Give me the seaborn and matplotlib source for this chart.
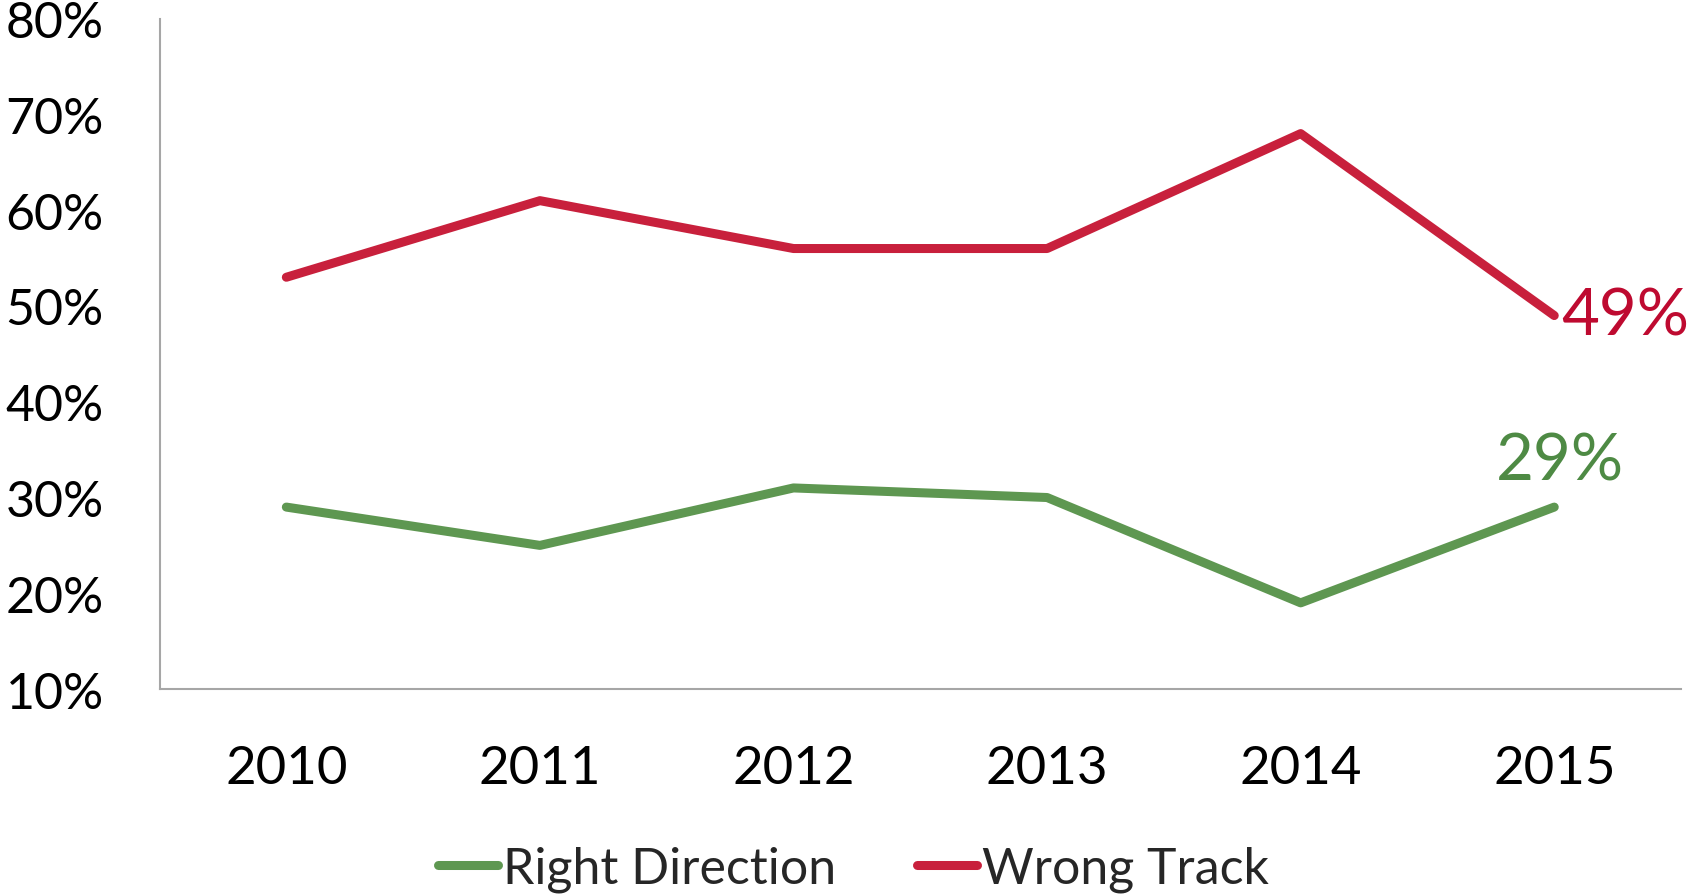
import matplotlib
matplotlib.use("Agg")
import matplotlib.pyplot as plt
import seaborn as sns
import pandas as pd
from matplotlib.ticker import PercentFormatter
from matplotlib.lines import Line2D

years = ["2010", "2011", "2012", "2013", "2014", "2015"]
right_direction = [0.29, 0.25, 0.31, 0.30, 0.19, 0.29]
wrong_track = [0.53, 0.61, 0.56, 0.56, 0.68, 0.49]
series_names = ["Right Direction", "Wrong Track"]
y_ticks = [0.1, 0.2, 0.3, 0.4, 0.5, 0.6, 0.7, 0.8]

line_colors = {"Right Direction": "#5E9751", "Wrong Track": "#C8203C"}
label_colors = {"Right Direction": "#4E8A44", "Wrong Track": "#BE0A30"}

df = pd.DataFrame({
    "Year": years * 2,
    "Value": right_direction + wrong_track,
    "Series": [series_names[0]] * len(years) + [series_names[1]] * len(years),
})

sns.set_theme(style="white")
plt.rcParams["font.family"] = ["Lato", "DejaVu Sans"]

fig = plt.figure(figsize=(16.9, 8.95), dpi=100)
ax = fig.add_axes([0.0944, 0.229, 0.9003, 0.749])

LW = 6.5
sns.lineplot(data=df, x="Year", y="Value", hue="Series", palette=line_colors,
             linewidth=LW, ax=ax, sort=False, legend=False,
             solid_capstyle="round", solid_joinstyle="round")

ax.set_xlim(-0.5, len(years) - 0.5)
ax.set_ylim(y_ticks[0], y_ticks[-1])
ax.set_yticks(y_ticks)
ax.yaxis.set_major_formatter(PercentFormatter(1.0, decimals=0))
ax.set_xlabel("")
ax.set_ylabel("")
ax.tick_params(axis="y", labelsize=36, length=0, pad=40, colors="black")
ax.tick_params(axis="x", labelsize=38, length=0, pad=40, colors="black")

for s in ["top", "right"]:
    ax.spines[s].set_visible(False)
for s in ["left", "bottom"]:
    ax.spines[s].set_color("#A6A6A6")
    ax.spines[s].set_linewidth(1.5)
ax.grid(False)

# data labels for the last point
last = len(years) - 1
ax.annotate(f"{wrong_track[last]*100:.0f}%", xy=(last, wrong_track[last]),
            xytext=(5, 0), textcoords="offset points", ha="left", va="center",
            fontsize=47, color=label_colors["Wrong Track"])
ax.annotate(f"{right_direction[last]*100:.0f}%", xy=(last, right_direction[last]),
            xytext=(4, 12), textcoords="offset points", ha="center", va="bottom",
            fontsize=47, color=label_colors["Right Direction"])

handles = [Line2D([0], [0], color=line_colors[n], linewidth=LW, solid_capstyle="round")
           for n in series_names]
fig.legend(handles, series_names, loc="center", bbox_to_anchor=(0.505, 0.028),
           ncol=2, frameon=False, fontsize=36, handlelength=1.2,
           handletextpad=0.1, columnspacing=1.6)

fig.savefig("out.png", dpi=100)
